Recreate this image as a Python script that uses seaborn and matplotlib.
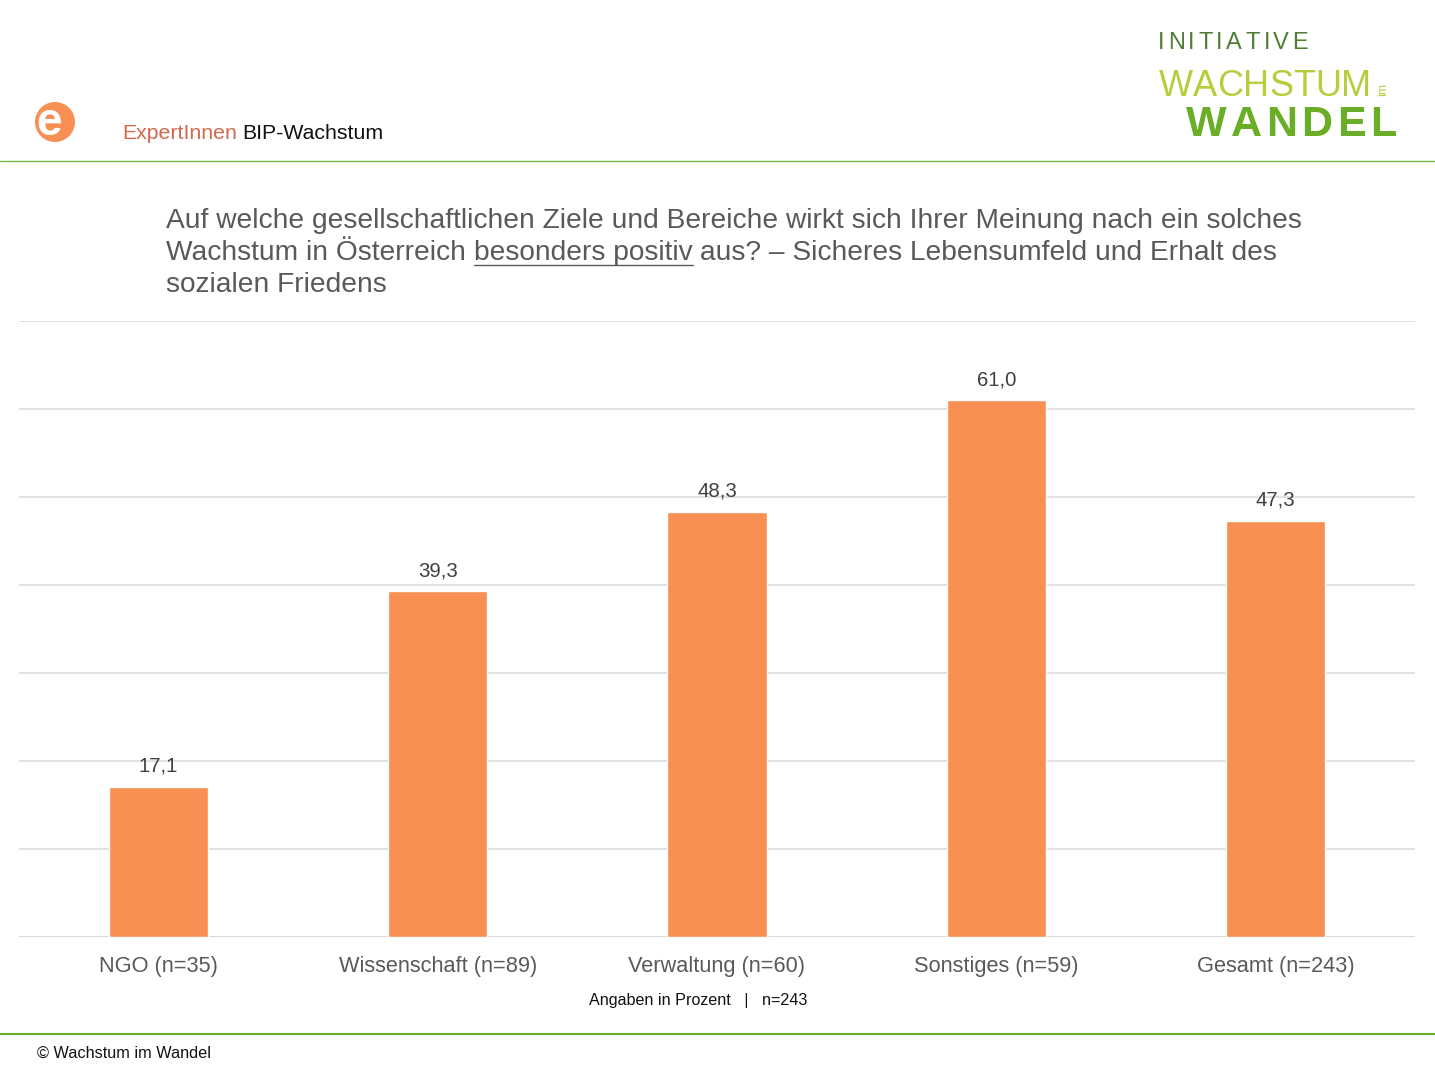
import matplotlib
matplotlib.use("Agg")
import matplotlib.pyplot as plt
import seaborn as sns
import pandas as pd
from matplotlib.patches import Ellipse
from matplotlib.lines import Line2D

categories = ["NGO (n=35)", "Wissenschaft (n=89)", "Verwaltung (n=60)", "Sonstiges (n=59)", "Gesamt (n=243)"]
values = [17.1, 39.3, 48.3, 61.0, 47.3]
value_labels = ["17,1", "39,3", "48,3", "61,0", "47,3"]
y_ticks = [0, 10, 20, 30, 40, 50, 60, 70]

title_line1 = "Auf welche gesellschaftlichen Ziele und Bereiche wirkt sich Ihrer Meinung nach ein solches"
title_line2_a = "Wachstum in Österreich "
title_line2_b = "besonders positiv"
title_line2_c = " aus? – Sicheres Lebensumfeld und Erhalt des"
title_line3 = "sozialen Friedens"
note_text = "Angaben in Prozent   |   n=243"
footer_text = "© Wachstum im Wandel"

sns.set_theme(style="white")
plt.rcParams['font.family'] = ['Liberation Sans', 'DejaVu Sans']

W, H = 1435, 1079
fig = plt.figure(figsize=(W / 100, H / 100), dpi=100)
fig.patch.set_facecolor("white")

def fx(px):
    return px / W

def fy(py):
    return 1 - py / H

# chart axes
ax = fig.add_axes([fx(19), fy(937), fx(1415) - fx(19), (937 - 321) / H])
df = pd.DataFrame({"cat": categories, "val": values})
sns.barplot(data=df, x="cat", y="val", hue="cat", palette=["#F79052"] * 5,
            width=0.355, legend=False, ax=ax, saturation=1)
ax.set_ylim(0, 70)
ax.set_yticks(y_ticks)
ax.set_yticklabels([])
ax.yaxis.grid(True, color="#D9D9D9", linewidth=1.1)
ax.set_axisbelow(True)
for s in ax.spines.values():
    s.set_visible(False)
ax.axhline(0, color="#D9D9D9", linewidth=1.3, zorder=0.5)
ax.set_xlabel("")
ax.set_ylabel("")
ax.tick_params(axis="x", length=0, pad=13.5, labelsize=15.7, labelcolor="#595959")
ax.tick_params(axis="y", length=0)
for i, (v, lab) in enumerate(zip(values, value_labels)):
    ax.annotate(lab, (i, v), xytext=(0, 8), textcoords="offset points",
                ha="center", va="bottom", fontsize=14.7, color="#404040")

# header / footer rules
fig.add_artist(Line2D([0, 1], [fy(161), fy(161)], color="#7AB648", linewidth=1.0))
fig.add_artist(Line2D([0, 1], [fy(1034), fy(1034)], color="#6AAD26", linewidth=1.5))

fig.add_artist(Ellipse((fx(55), fy(122)), 40 / W, 40 / H, transform=fig.transFigure,
                       facecolor="#F79052", edgecolor="none"))
fig.text(fx(49), fy(123), "e", ha="center", va="center", fontsize=33, fontweight="bold", color="white")

fig.canvas.draw()
r = fig.canvas.get_renderer()
t = fig.text(fx(122), fy(134), "ExpertInnen", ha="left", va="center", fontsize=15.3, color="#D2694A")
bb = t.get_window_extent(r)
fig.text((bb.x1 + 5) / W, fy(134), "BIP-Wachstum", ha="left", va="center", fontsize=15.3, color="#111111")

def tracked(text, x_px, y_px, tracking, **kw):
    x = x_px
    for ch in text:
        tt = fig.text(x / W, fy(y_px), ch, ha="left", va="center", **kw)
        w = tt.get_window_extent(r).width
        x += w + tracking
    return x

tracked("INITIATIVE", 1158, 43, 3.5, fontsize=17, color="#4E7D34")
tracked("WACHSTUM", 1159, 86, 0, fontsize=26, color="#B5CF3C")
fig.text(fx(1383), fy(89), "im", ha="center", va="center", fontsize=9, rotation=90, color="#B5CF3C")
tracked("WANDEL", 1186, 125, 4.3, fontsize=31, fontweight="bold", color="#6AAD26")

# title
tkw = dict(fontsize=20.25, color="#595959", ha="left", va="center")
fig.text(fx(166), fy(221), title_line1, **tkw)
ta = fig.text(fx(166), fy(253), title_line2_a, **tkw)
xa = ta.get_window_extent(r).x1
tb = fig.text(xa / W, fy(253), title_line2_b, **tkw)
bbb = tb.get_window_extent(r)
fig.text(bbb.x1 / W, fy(253), title_line2_c, **tkw)
uy = bbb.y0 + 1
fig.add_artist(Line2D([bbb.x0 / W, bbb.x1 / W], [uy / H, uy / H], color="#595959", linewidth=1.0))
fig.text(fx(166), fy(285), title_line3, **tkw)

fig.text(fx(698), fy(1001), note_text, ha="center", va="center", fontsize=11.6, color="#111111")
fig.text(fx(37), fy(1053), footer_text, ha="left", va="center", fontsize=11.7, color="#111111")

fig.savefig("out.png", dpi=100, facecolor="white")
